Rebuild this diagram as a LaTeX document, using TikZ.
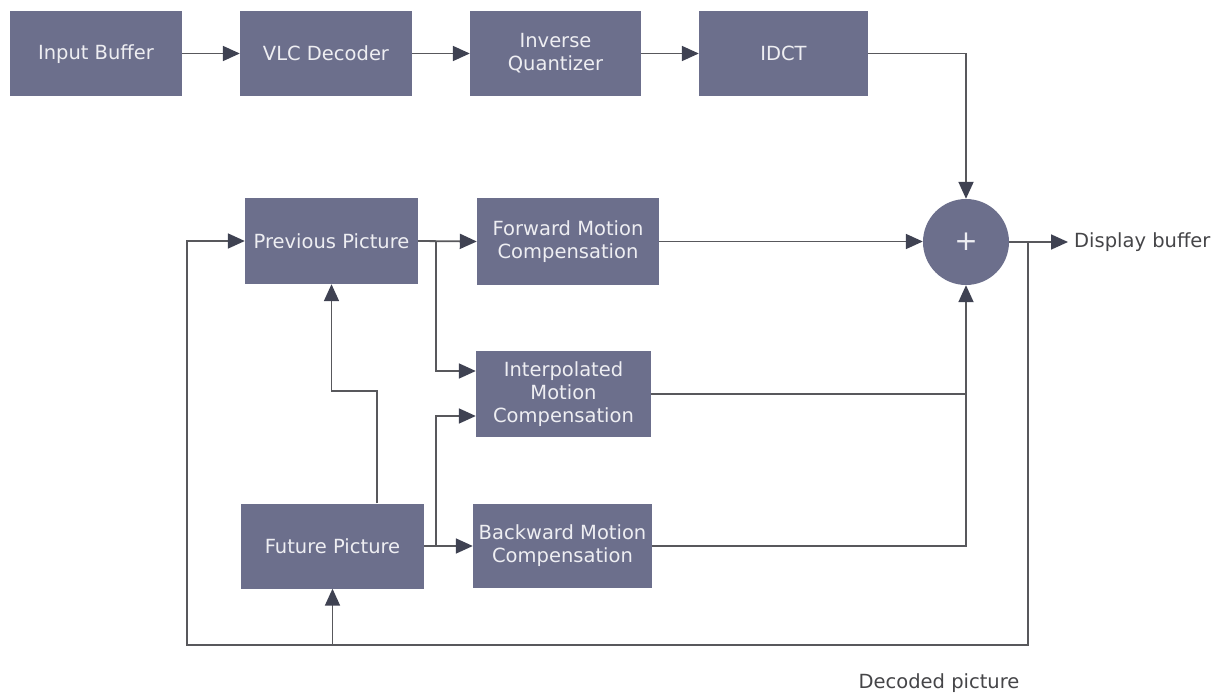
\documentclass[tikz,border=0pt]{standalone}
\usepackage{fontspec}
\setmainfont{DejaVu Sans}
\usetikzlibrary{arrows.meta,calc}
\definecolor{boxc}{HTML}{6C6F8C}
\definecolor{linec}{HTML}{58585C}
\definecolor{tipc}{HTML}{3F4252}
\definecolor{txtc}{HTML}{EEEEF2}
\definecolor{labc}{HTML}{454548}
\newcommand{\topstrut}{\rule{0pt}{16pt}}
\newcommand{\botstrut}{\rule[-2pt]{0pt}{2pt}}
\begin{document}
\begin{tikzpicture}[x=1pt,y=-1pt,
  blk/.style={fill=boxc,draw=none,inner sep=0pt,align=center,text=txtc,
    font=\fontsize{19.5}{23}\selectfont,
    execute at begin node=\topstrut, execute at end node=\botstrut},
  conn/.style={draw=linec,line width=1.8pt},
  arr/.style={conn,-{Triangle[length=17pt,width=15pt,color=tipc]}},
  lab/.style={text=labc,font=\fontsize{19.5}{23}\selectfont,inner sep=0pt}]
\useasboundingbox (0,0) rectangle (1221,693);
\fill[white] (0,0) rectangle (1221,693);
% top row
\node[blk,minimum width=172pt,minimum height=85pt] (inb) at (96,53.5) {Input Buffer};
\node[blk,minimum width=172pt,minimum height=85pt] (vlc) at (326,53.5) {VLC Decoder};
\node[blk,minimum width=171pt,minimum height=85pt] (iq) at (555.5,53.5) {Inverse\\Quantizer};
\node[blk,minimum width=169pt,minimum height=85pt] (idct) at (783.5,53.5) {IDCT};
% lower blocks
\node[blk,minimum width=173pt,minimum height=86pt] (prev) at (331.5,241) {Previous Picture};
\node[blk,minimum width=182pt,minimum height=87pt] (fmc) at (568,241.5) {Forward Motion\\Compensation};
\node[blk,minimum width=175pt,minimum height=86pt] (imc) at (563.5,394) {Interpolated\\Motion\\Compensation};
\node[blk,minimum width=183pt,minimum height=85pt] (fut) at (332.5,546) {Future Picture};
\node[blk,minimum width=179pt,minimum height=84pt] (bmc) at (562.5,546) {Backward Motion\\Compensation};
\node[circle,fill=boxc,minimum size=86pt,inner sep=0pt,text=txtc,
  font=\fontsize{28}{30}\selectfont] (sum) at (966,242) {+};
% coordinates
\coordinate (j1) at (436,241);
\coordinate (j2) at (436,546);
\coordinate (disp) at (1068,242);
\coordinate (fb) at (1028,242);
\coordinate (fbbr) at (1028,645);
\coordinate (fbbl) at (187,645);
% top row connectors
\draw[arr] (inb) -- (vlc);
\draw[arr] (vlc) -- (iq);
\draw[arr] (iq) -- (idct);
\draw[arr] (idct.east) -| (sum.north);
% previous picture
\draw[arr] (prev.east) -- (fmc.west);
\draw[arr] (j1) |- ([yshift=23pt]imc.west);
\draw[arr] (fut.east) -- (bmc.west);
\draw[arr] (j2) |- ([yshift=-22pt]imc.west);
\draw[arr] ([xshift=44.5pt]fut.north) -- ++(0,-112) -| (prev.south);
% to adder
\draw[arr] (fmc.east) -- (sum.west |- fmc.east);
\draw[conn] (imc.east) -- (imc.east -| sum.south);
\draw[arr] (bmc.east) -| (sum.south);
% output
\draw[arr] (sum.east) -- (disp);
\node[lab,anchor=west] (dispt) at (1074,242) {Display buffer};
% feedback
\draw[arr] (fb) -- (fbbr) -- (fbbl) |- (prev.west);
\draw[arr] (fut.south |- fbbl) -- (fut.south);
\node[lab] (dect) at (939,683) {Decoded picture};
\end{tikzpicture}
\end{document}
